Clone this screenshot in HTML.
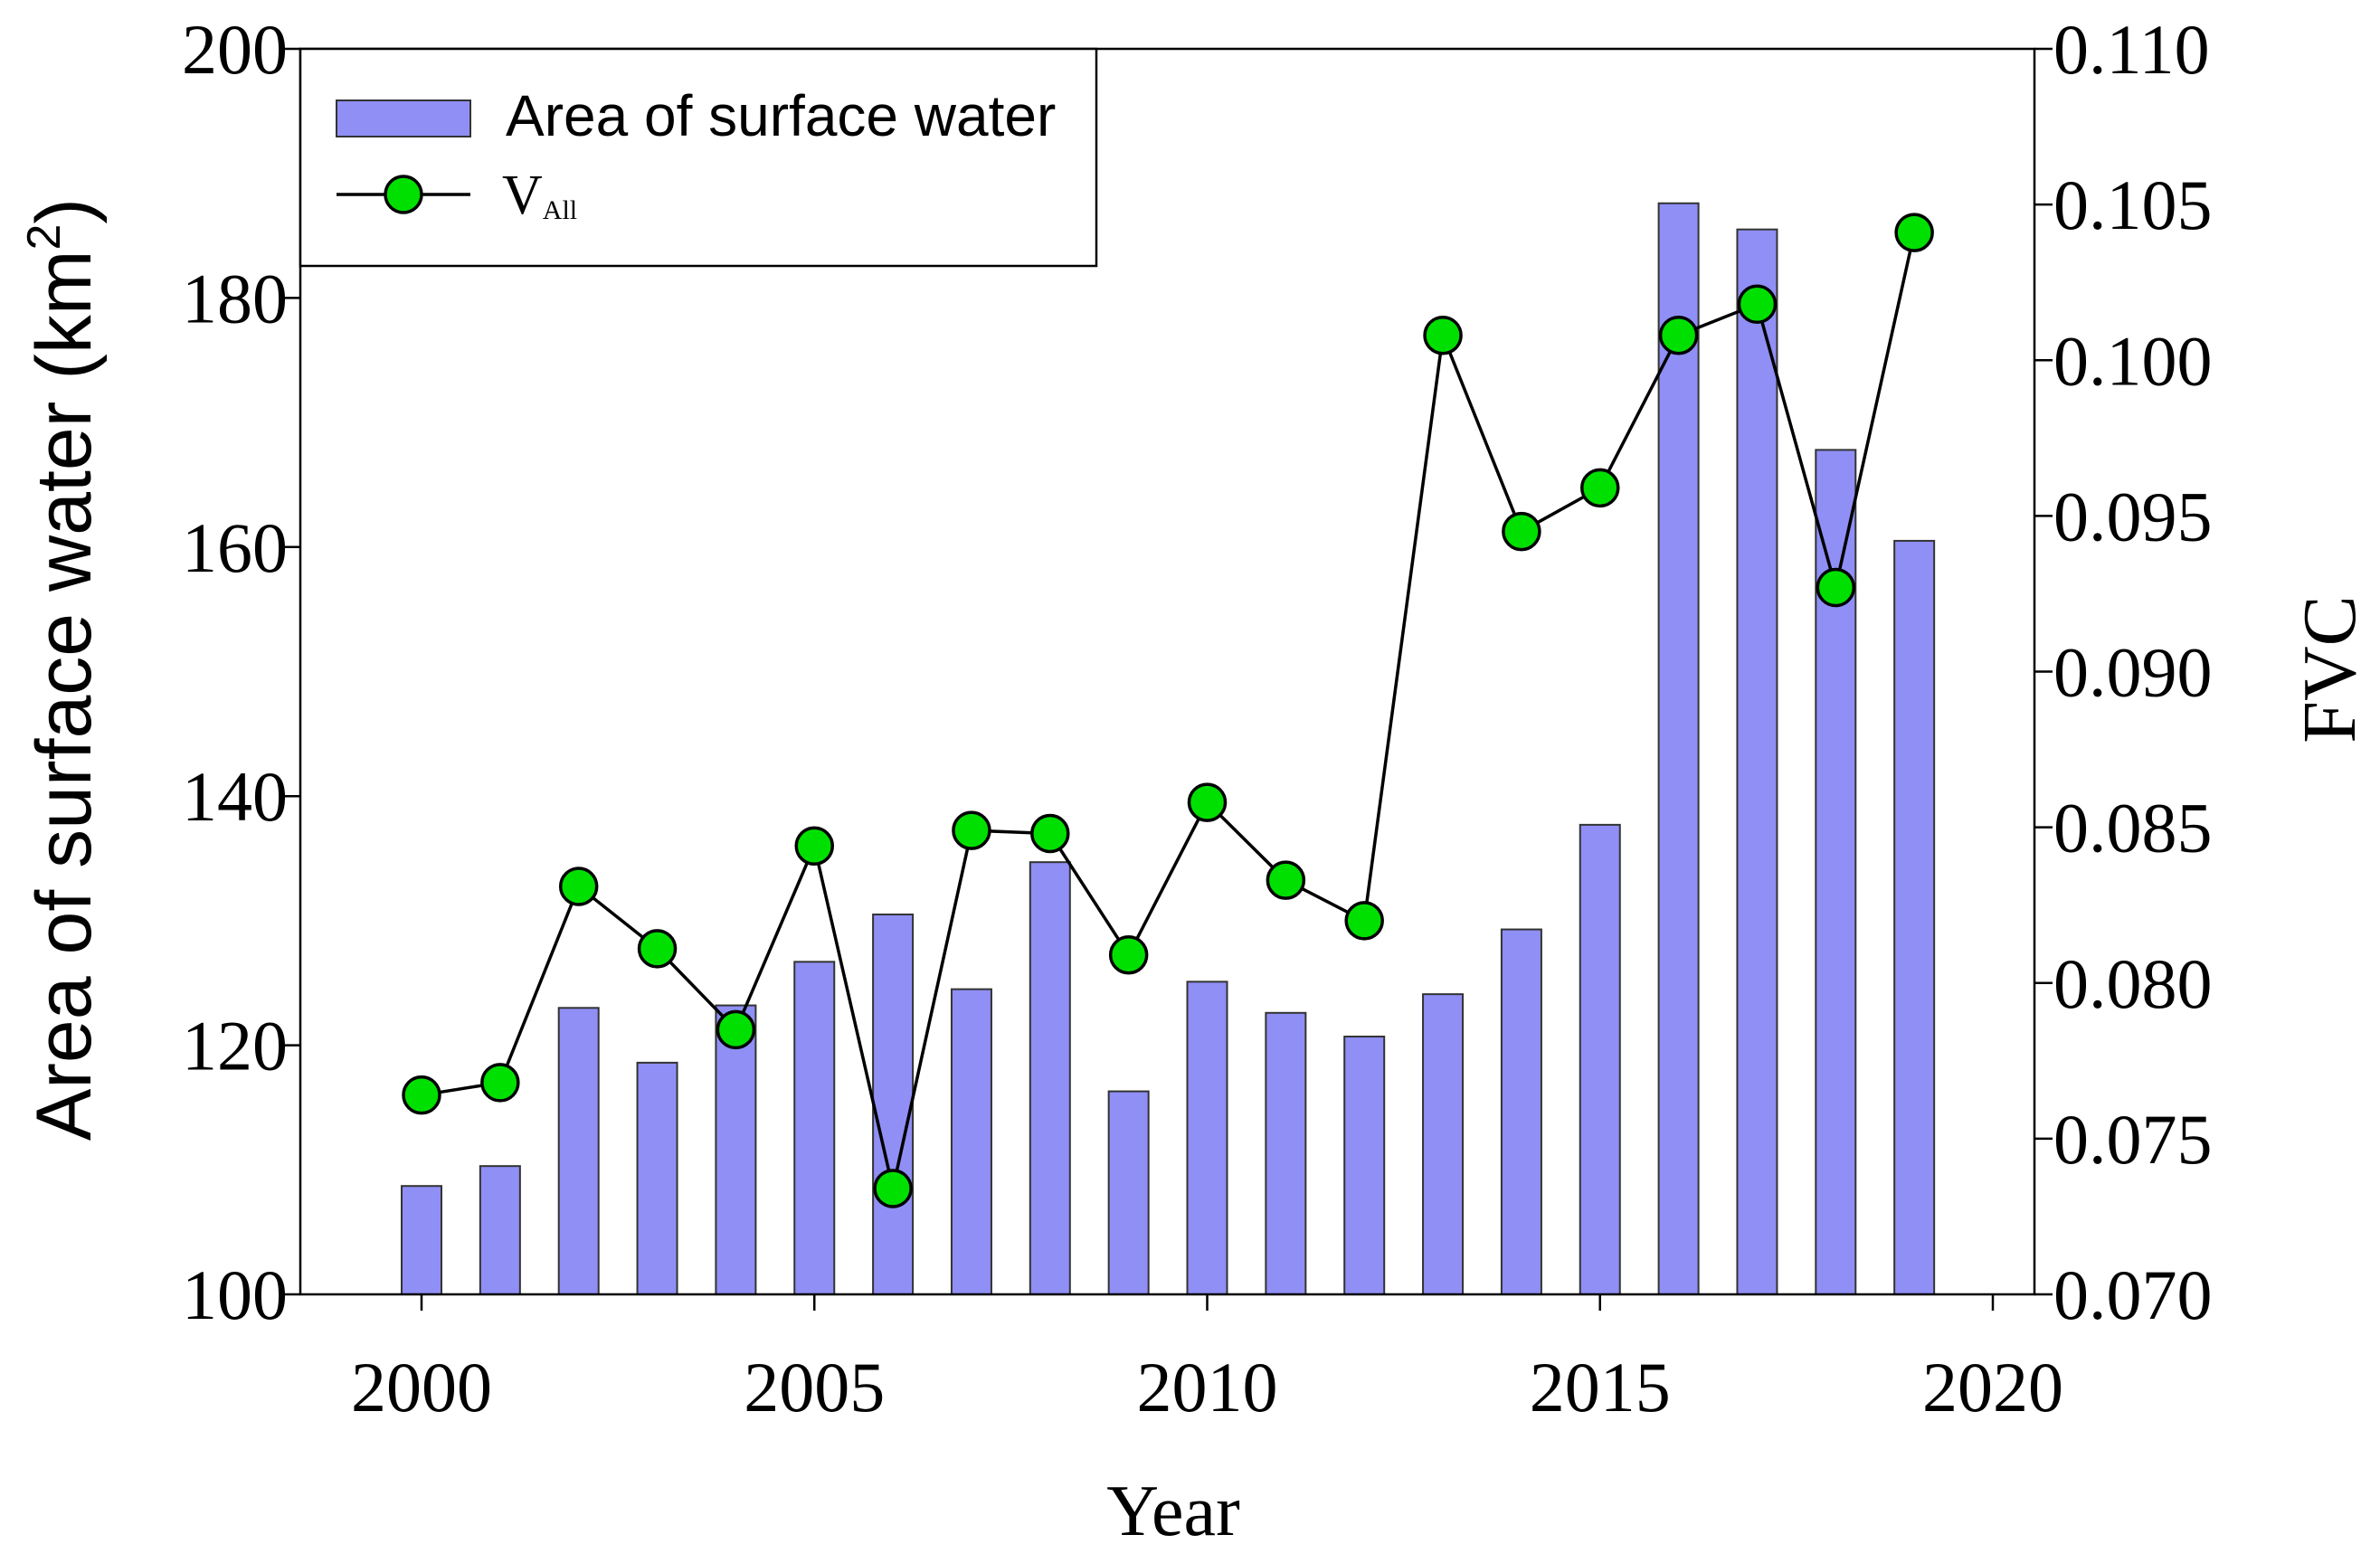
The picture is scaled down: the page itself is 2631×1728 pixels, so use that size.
<!DOCTYPE html>
<html><head><meta charset="utf-8"><style>
html,body{margin:0;padding:0;background:#fff;}
svg{display:block;}
.serif{font-family:"Liberation Serif",serif;}
.sans{font-family:"Liberation Sans",sans-serif;}
</style></head><body>
<svg id="chart" width="2631" height="1728" viewBox="0 0 2631 1728">
<g id="bars"></g>
<g id="line"></g>
<g id="axes"></g>
<g>
<rect x="332" y="54" width="880" height="240" fill="#fff" stroke="#000" stroke-width="2.5"/>
<rect x="372" y="111" width="148" height="40" fill="#8f8ff5" stroke="#333" stroke-width="2"/>
<text x="559" y="150" class="sans" font-size="64">Area of surface water</text>
<line x1="372" y1="215" x2="520" y2="215" stroke="#000" stroke-width="3.5"/>
<circle cx="446" cy="215" r="20" fill="#00e000" stroke="#000" stroke-width="3.5"/>
<text x="555" y="236" class="serif" font-size="62">V<tspan font-size="30" dy="6">All</tspan></text>
</g>
<text transform="translate(100,740) rotate(-90)" text-anchor="middle" class="sans" font-size="86">Area of surface water (km<tspan font-size="52" dy="-34">2</tspan><tspan dy="34">)</tspan></text>
<text transform="translate(2603,740) rotate(-90)" text-anchor="middle" class="serif" font-size="84">FVC</text>
<text x="1297" y="1697" text-anchor="middle" class="serif" font-size="80">Year</text>
</svg>
<script>
const years=[2000,2001,2002,2003,2004,2005,2006,2007,2008,2009,2010,2011,2012,2013,2014,2015,2016,2017,2018,2019];
const areaValues=[108.7,110.3,123.0,118.6,123.2,126.7,130.5,124.5,134.7,116.3,125.1,122.6,120.7,124.1,129.3,137.7,187.6,185.5,167.8,160.5];
const fvcValues=[0.0764,0.0768,0.0831,0.0811,0.0785,0.0844,0.0734,0.0849,0.0848,0.0809,0.0858,0.0833,0.0820,0.1008,0.0945,0.0959,0.1008,0.1018,0.0927,0.1041];
const xTicks=[2000,2005,2010,2015,2020];
const leftTicks=[100,120,140,160,180,200];
const rightTicks=["0.070","0.075","0.080","0.085","0.090","0.095","0.100","0.105","0.110"];

const L=332,R=2249,T=54,B=1431;
const NS="http://www.w3.org/2000/svg";
const xS=y=>466+(y-2000)*(2203-466)/20;
const yL=v=>B-(v-100)/100*(B-T);
const yR=v=>B-(v-0.07)/0.04*(B-T);
function mk(tag,attrs,parent){const e=document.createElementNS(NS,tag);for(const k in attrs)e.setAttribute(k,attrs[k]);parent.appendChild(e);return e;}
const bars=document.getElementById('bars'),line=document.getElementById('line'),axes=document.getElementById('axes');
years.forEach((y,i)=>{
 const top=yL(areaValues[i]);
 const r=mk('rect',{x:xS(y)-22,y:top,width:44,height:B-top,fill:'#8f8ff5',stroke:'#333','stroke-width':2},bars);
 
 
});
const pl=mk('polyline',{points:years.map((y,i)=>xS(y)+','+yR(fvcValues[i])).join(' '),fill:'none',stroke:'#000','stroke-width':3.5},line);


years.forEach((y,i)=>{
 const c=mk('circle',{cx:xS(y),cy:yR(fvcValues[i]),r:20,fill:'#00e000',stroke:'#000','stroke-width':3.5},line);
 
 
});
const frame=mk('rect',{x:L,y:T,width:R-L,height:B-T,fill:'none',stroke:'#000','stroke-width':2.5},axes);


xTicks.forEach(t=>{
 const x=xS(t);
 mk('line',{x1:x,y1:B,x2:x,y2:B+18,stroke:'#000','stroke-width':2.5},axes);
 const tx=mk('text',{x:x,y:1560,'text-anchor':'middle','class':'serif','font-size':78},axes);
 tx.textContent=t;
 
 
});
leftTicks.forEach(t=>{
 const y=yL(t);
 mk('line',{x1:L-20,y1:y,x2:L,y2:y,stroke:'#000','stroke-width':2.5},axes);
 const tx=mk('text',{x:318,y:y+27,'text-anchor':'end','class':'serif','font-size':78},axes);
 tx.textContent=t;
 
 
});
rightTicks.forEach(t=>{
 const y=yR(parseFloat(t));
 mk('line',{x1:R,y1:y,x2:R+20,y2:y,stroke:'#000','stroke-width':2.5},axes);
 const tx=mk('text',{x:2270,y:y+27,'class':'serif','font-size':78},axes);
 tx.textContent=t;
 
 
});
</script>
</body></html>
